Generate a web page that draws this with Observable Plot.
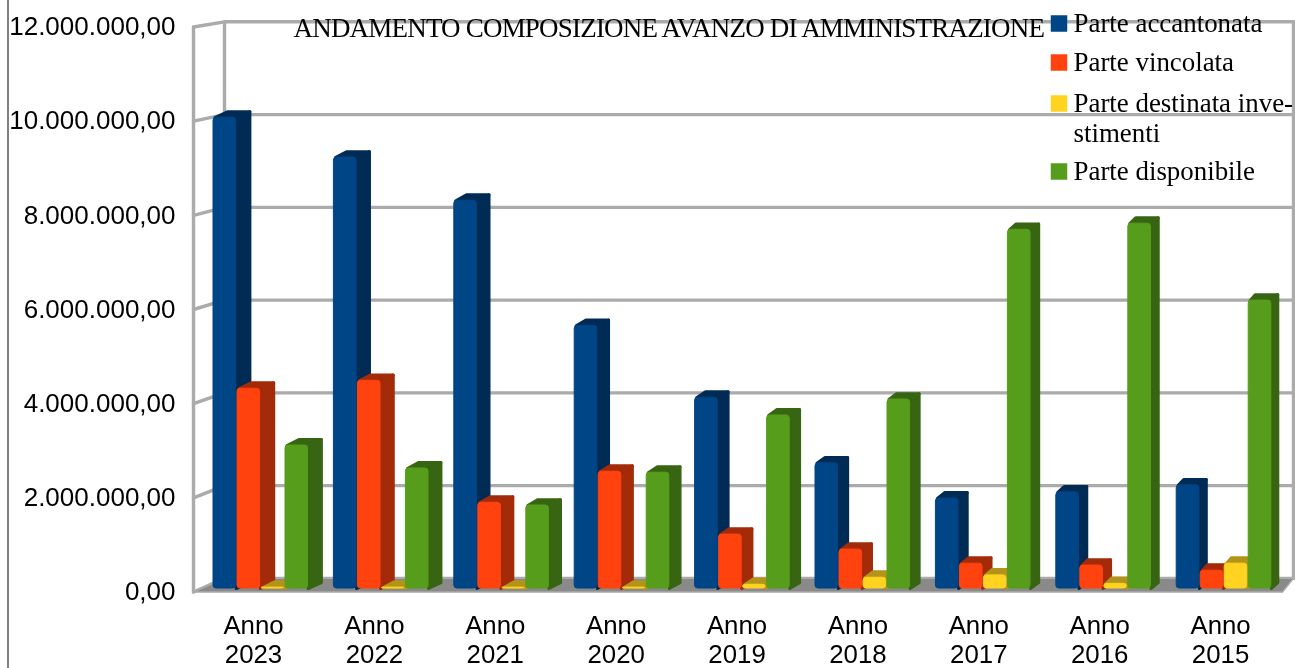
<!DOCTYPE html>
<html>
<head>
<meta charset="utf-8">
<script src="https://cdn.jsdelivr.net/npm/d3@7"></script>
<script src="https://cdn.jsdelivr.net/npm/@observablehq/plot@0.6"></script>
<style>
html,body{margin:0;padding:0;background:#fff;overflow:hidden}
body{position:relative;width:1295px;height:668px}
body::before{content:"";position:absolute;left:7px;top:0;height:668px;width:1.5px;background:#808080}
svg{display:block}
.chart-title text{letter-spacing:-0.8px}
</style>
</head>
<body>
<script>
const years = ["Anno\n2023","Anno\n2022","Anno\n2021","Anno\n2020","Anno\n2019","Anno\n2018","Anno\n2017","Anno\n2016","Anno\n2015"];
const accantonata = [10040000,9190000,8270000,5600000,4070000,2670000,1920000,2050000,2200000];
const vincolata   = [4260000,4430000,1830000,2490000,1150000,830000,530000,490000,380000];
const investimenti= [20000,20000,20000,20000,80000,230000,280000,100000,530000];
const disponibile = [3050000,2560000,1770000,2470000,3690000,4030000,7650000,7780000,6140000];
const seriesNames = ["Parte accantonata","Parte vincolata","Parte destinata inve-","Parte disponibile"];
const seriesValues = [accantonata,vincolata,investimenti,disponibile];
const faceColors = ["#004586","#ff420e","#ffd320","#579d1c"];
const sideColors = ["#002b54","#a32b09","#b3941a","#376512"];
const yTicks = [0,2000000,4000000,6000000,8000000,10000000,12000000];

const title = "ANDAMENTO COMPOSIZIONE AVANZO DI AMMINISTRAZIONE";
const gridColor = "#ababab", floorColor = "#8a8a8a";

// Projection helpers: x is measured in category pitches, y in euro.
const pitch = 120.4, slot = 24 / pitch, barW = 22.6 / pitch;
const wallFront = -20 / pitch, wallBack = 11 / pitch, wallRight = 1080 / pitch, floorFrontRight = 1069 / pitch;
const backValue = v => 290000 + v * 0.985;
const base = 74000, barScale = 0.996;
const lift = 125000;                               // rise of a bar's depth
const depthAt = u => (13.8 - 0.85 * u) / pitch;    // perspective narrows the depth

const faces = [], sides = [];
years.forEach((_, g) => seriesValues.forEach((vals, s) => {
  const x1 = g + s * slot, x2 = x1 + barW, top = base + vals[g] * barScale, d = depthAt(g + s * slot);
  const id = `${g}-${s}`;
  faces.push({x1, x2, y1: base, y2: top, c: faceColors[s]});
  for (const [x, y] of [[x2, base], [x2 + d, base + lift], [x2 + d, top + lift], [x2, top]])
    sides.push({id: "s" + id, x, y, c: sideColors[s]});
  for (const [x, y] of [[x1 + 1.5 / pitch, top], [x1 + d, top + lift], [x2 + d, top + lift], [x2, top]])
    sides.push({id: "t" + id, x, y, c: sideColors[s]});
}));

const floor = [[wallFront, 0], [floorFrontRight, 0], [wallRight, backValue(0)], [wallBack, backValue(0)]].map(([x, y]) => ({x, y}));
const grid = [];
yTicks.forEach(v => {
  grid.push({id: "d" + v, x: wallFront, y: v}, {id: "d" + v, x: wallBack, y: backValue(v)}, {id: "d" + v, x: wallRight, y: backValue(v)});
});
grid.push({id: "back", x: wallBack, y: backValue(0)}, {id: "back", x: wallBack, y: backValue(12000000)});
grid.push({id: "right", x: wallRight, y: backValue(0)}, {id: "right", x: wallRight, y: backValue(12000000)});
grid.push({id: "front", x: wallFront, y: 0}, {id: "front", x: wallFront, y: 12000000});

const labelPos = years.map((_, i) => 40 / pitch + i * 1.004);
const fmt = v => d3.format(",.2f")(v).replace(/,/g, "#").replace(".", ",").replace(/#/g, ".");

const legendRows = [
  {text: seriesNames[0], color: faceColors[0], top: 5},
  {text: seriesNames[1], color: faceColors[1], top: 44},
  {text: seriesNames[2], color: faceColors[2], top: 85},
  {text: "stimenti", color: null, top: 115},
  {text: seriesNames[3], color: faceColors[3], top: 153}
];
const frameTop = 26.5;

const legendMarks = legendRows.flatMap(r => {
  const m = [Plot.text([r.text], {
    text: d => d, frameAnchor: "top-left", textAnchor: "start", lineAnchor: "bottom",
    dx: 1073 - 193, dy: r.top - frameTop + 26, fontSize: 26.9, fontFamily: "Liberation Serif", fill: "#000"
  })];
  if (r.color) m.unshift(Plot.dot([r.color], {
    frameAnchor: "top-left", dx: 1058.5 - 193, dy: r.top - frameTop + 18,
    symbol: "square", r: 9.3, fill: d => d, stroke: "none"
  }));
  return m;
});

const chart = Plot.plot({
  width: 1295, height: 668,
  marginLeft: 193, marginRight: 2, marginTop: 26.5, marginBottom: 76.5,
  style: {background: "transparent", fontFamily: "Liberation Sans", color: "#000", filter: "blur(0.35px)"},
  x: {type: "linear", domain: [wallFront, wallRight], axis: null},
  y: {domain: [0, 12000000], axis: null},
  color: {type: "identity"},
  marks: [
    Plot.line(grid, {x: "x", y: "y", z: "id", stroke: gridColor, strokeWidth: 3.4, strokeLinejoin: "miter"}),
    Plot.line(floor, {x: "x", y: "y", curve: "linear-closed", fill: floorColor, stroke: gridColor, strokeWidth: 1.5}),
    Plot.line(sides, {x: "x", y: "y", z: "id", curve: "linear-closed", fill: "c", stroke: "c", strokeWidth: 3, strokeLinejoin: "round"}),
    Plot.rect(faces, {x1: "x1", x2: "x2", y1: "y1", y2: "y2", fill: "c", stroke: "c", strokeWidth: 1, rx: 3}),
    Plot.axisY({ticks: yTicks, tickFormat: fmt, tickSize: 0, tickPadding: 18, fontSize: 26, label: null, anchor: "left", fill: "#000"}),
    Plot.axisX(labelPos, {tickFormat: (d) => years[labelPos.indexOf(d)], tickSize: 0, tickPadding: 22, fontSize: 25.8, label: null, anchor: "bottom", lineHeight: 1.1, fill: "#000", textOverflow: null}),
    Plot.text([title], {
      text: d => d, frameAnchor: "top-left", textAnchor: "start", lineAnchor: "bottom",
      dx: 293 - 193, dy: 36 - frameTop, fontSize: 27, fontFamily: "Liberation Serif", fill: "#000",
      className: "chart-title"
    }),
    ...legendMarks
  ]
});
document.body.appendChild(chart);
</script>
</body>
</html>
